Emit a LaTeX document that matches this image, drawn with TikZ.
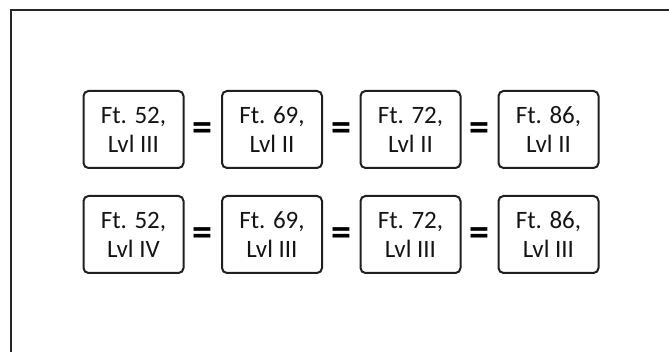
\documentclass[tikz,border=0pt]{standalone}
\usepackage{fontspec}
\setmainfont{Carlito}
\usetikzlibrary{calc}
\begin{document}
\begin{tikzpicture}[x=1pt,y=-1pt,
  featbox/.style={draw=black!88, line width=2pt, rounded corners=5pt,
    minimum width=100pt, minimum height=77pt, inner sep=0pt,
    align=center, font=\fontsize{25}{29}\selectfont, text=black!92},
  eqsign/.style={inner sep=0pt, font=\fontsize{40}{40}\bfseries\selectfont}]
  \useasboundingbox (0,0) rectangle (669,352);
  % open frame: only the left and top edges fall inside the page
  \coordinate (fbl) at (11,353);
  \coordinate (ftl) at (11,10);
  \coordinate (ftr) at (670,10);
  \draw[line width=2pt, black!85] (fbl) -- (ftl) -- (ftr);
  % first row
  \node[featbox] (a1) at (133.5,129.5) {Ft. 52,\\Lvl III};
  \node[featbox] (a2) at (272,129.5) {Ft. 69,\\Lvl II};
  \node[featbox] (a3) at (410.5,129.5) {Ft. 72,\\Lvl II};
  \node[featbox] (a4) at (548.5,129.5) {Ft. 86,\\Lvl II};
  % second row
  \node[featbox] (b1) at (133.5,234.5) {Ft. 52,\\Lvl IV};
  \node[featbox] (b2) at (272,234.5) {Ft. 69,\\Lvl III};
  \node[featbox] (b3) at (410.5,234.5) {Ft. 72,\\Lvl III};
  \node[featbox] (b4) at (548.5,234.5) {Ft. 86,\\Lvl III};
  % equality signs between neighbouring boxes
  \foreach \r in {a,b}{
    \node[eqsign] (\r e1) at ($(\r1.east)!0.5!(\r2.west)+(0,2)$) {=};
    \node[eqsign] (\r e2) at ($(\r2.east)!0.5!(\r3.west)+(0,2)$) {=};
    \node[eqsign] (\r e3) at ($(\r3.east)!0.5!(\r4.west)+(0,2)$) {=};
  }
\end{tikzpicture}
\end{document}
